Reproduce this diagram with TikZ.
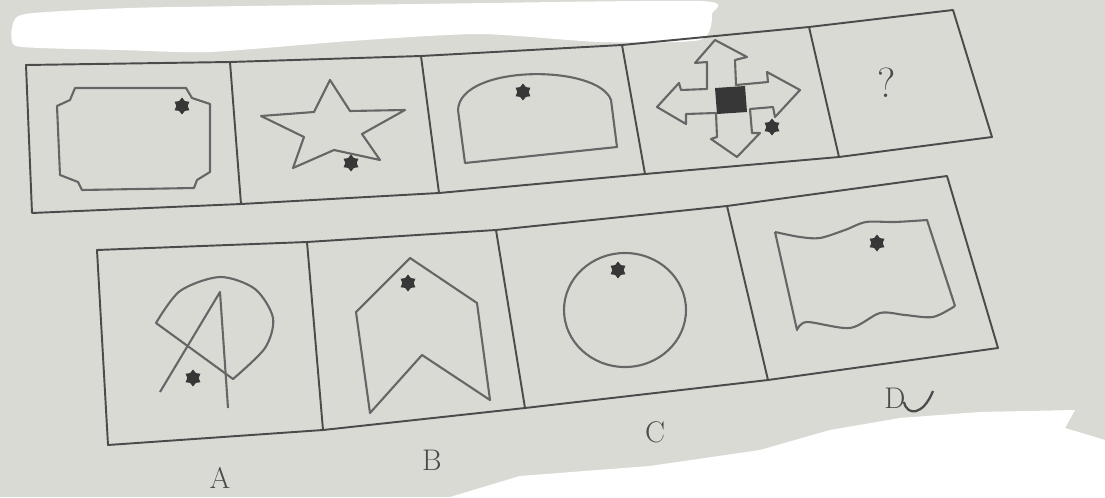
\documentclass[tikz,border=0pt]{standalone}
\usepackage{tikz}
\usetikzlibrary{shapes.geometric}
\usepackage{color}
\definecolor{paper}{RGB}{218, 218, 213}
\definecolor{ink}{RGB}{75, 75, 75}
\definecolor{blot}{RGB}{55, 55, 55}

\begin{document}
\begin{tikzpicture}[x=0.02cm, y=-0.02cm, line join=round,
    frame/.style={draw=ink, line width=1.1pt},
    figline/.style={draw=ink!85, line width=1.2pt},
    blotch/.style={star, star points=6, star point ratio=1.5, fill=blot, inner sep=0pt, minimum size=0.34cm},
    every node/.style={font=\fontsize{17}{17}\selectfont, text=ink}]
            \useasboundingbox (0,0) rectangle (1105,497);
            \fill[paper] (0,0) rectangle (1105,497);
            \fill[white] plot[smooth cycle, tension=0.4] coordinates {(12,28) (25,14) (130,8) (250,6) (420,4) (700,1) (712,14) (700,40) (600,42) (480,34) (350,41) (210,52) (120,50) (40,48) (14,45)};
            \fill[white] (450,497) -- (520,476) -- (650,466) -- (760,450) -- (830,430) -- (900,418) -- (980,412) -- (1075,410) -- (1065,428) -- (1105,440) -- (1105,497) -- cycle;

            % upper row
            \coordinate (t0) at (26,65);  \coordinate (b0) at (32,213);
            \coordinate (t1) at (230,62); \coordinate (b1) at (241,204);
            \coordinate (t2) at (421,56); \coordinate (b2) at (439,193);
            \coordinate (t3) at (622,45); \coordinate (b3) at (645,174);
            \coordinate (t4) at (809,27); \coordinate (b4) at (839,157);
            \coordinate (t5) at (953,10); \coordinate (b5) at (992,137);
            \draw[frame] (t0) -- (t1) -- (t2) -- (t3) -- (t4) -- (t5) -- (b5) -- (b4) -- (b3) -- (b2) -- (b1) -- (b0) -- cycle;
            \foreach \i in {1,...,4}
                \draw[frame] (t\i) -- (b\i);

            \draw[figline] (75,88) -- (186,88) -- (192,98) -- (210,104) -- (210,172) -- (197,180) -- (194,188) -- (82,190) -- (78,182) -- (60,175) -- (57,106) -- (70,100) -- cycle;
            \node[blotch] (dot1) at (182,106) {};

            \draw[figline] (330,80) -- (350,111) -- (405,110) -- (362,134) -- (380,160) -- (334,150) -- (293,168) -- (304,137) -- (261,116) -- (314,112) -- cycle;
            \node[blotch] (dot2) at (351,163) {};

            \draw[figline] (458,110) -- (465,163) -- (617,147) -- (611,100) .. controls (598,64) and (460,64) .. (458,110) -- cycle;
            \node[blotch] (dot3) at (523,92) {};

            \draw[figline] (715,40) -- (747,57) -- (735,60) -- (736,85) -- (768,82) -- (767,72) -- (800,90) -- (775,117) -- (773,107) -- (750,109) -- (752,133) -- (760,133) -- (737,157) -- (711,139) -- (717,137) -- (716,113) -- (686,114) -- (686,124) -- (657,107) -- (679,83) -- (681,90) -- (707,89) -- (707,62) -- (695,63) -- cycle;
            \fill[blot] (715,88) -- (745,86) -- (747,112) -- (717,114) -- cycle;
            \node[blotch] (dot4) at (772,127) {};

            \node[font=\fontsize{24}{24}\selectfont] (ask) at (887,83) {?};

            % lower row
            \coordinate (u0) at (97,250);  \coordinate (v0) at (108,445);
            \coordinate (u1) at (307,242); \coordinate (v1) at (323,430);
            \coordinate (u2) at (496,230); \coordinate (v2) at (525,408);
            \coordinate (u3) at (727,206); \coordinate (v3) at (768,380);
            \coordinate (u4) at (947,176); \coordinate (v4) at (998,348);
            \draw[frame] (u0) -- (u1) -- (u2) -- (u3) -- (u4) -- (v4) -- (v3) -- (v2) -- (v1) -- (v0) -- cycle;
            \foreach \i in {1,...,3}
                \draw[frame] (u\i) -- (v\i);

            \draw[figline] plot[smooth] coordinates {(156,323) (180,291) (220,277) (255,289) (273,318) (265,348) (233,379)} -- cycle;
            \draw[figline] (160,392) -- (220,292) -- (228,408);
            \node[blotch] (dotA) at (193,378) {};

            \draw[figline] (410,258) -- (477,303) -- (490,400) -- (422,355) -- (370,413) -- (356,312) -- cycle;
            \node[blotch] (dotB) at (408,283) {};

            \draw[figline] (625,310) ellipse [x radius=61, y radius=57];
            \node[blotch] (dotC) at (618,270) {};

            \draw[figline] plot[smooth] coordinates {(775,232) (800,237) (820,238) (845,230) (866,222) (895,222) (927,220)} -- (955,306)
                plot[smooth] coordinates {(955,306) (933,317) (905,315) (880,313) (850,328) (807,322) (797,330)} -- (775,232);
            \node[blotch] (dotD) at (877,243) {};

            \node (labA) at (220,478) {A};
            \node (labB) at (432,460) {B};
            \node (labC) at (655,432) {C};
            \node (labD) at (895,398) {D};
            \draw[ink, line width=1.3pt] (904,402) .. controls (907,416) and (923,416) .. (933,391);
        \end{tikzpicture}
\end{document}
